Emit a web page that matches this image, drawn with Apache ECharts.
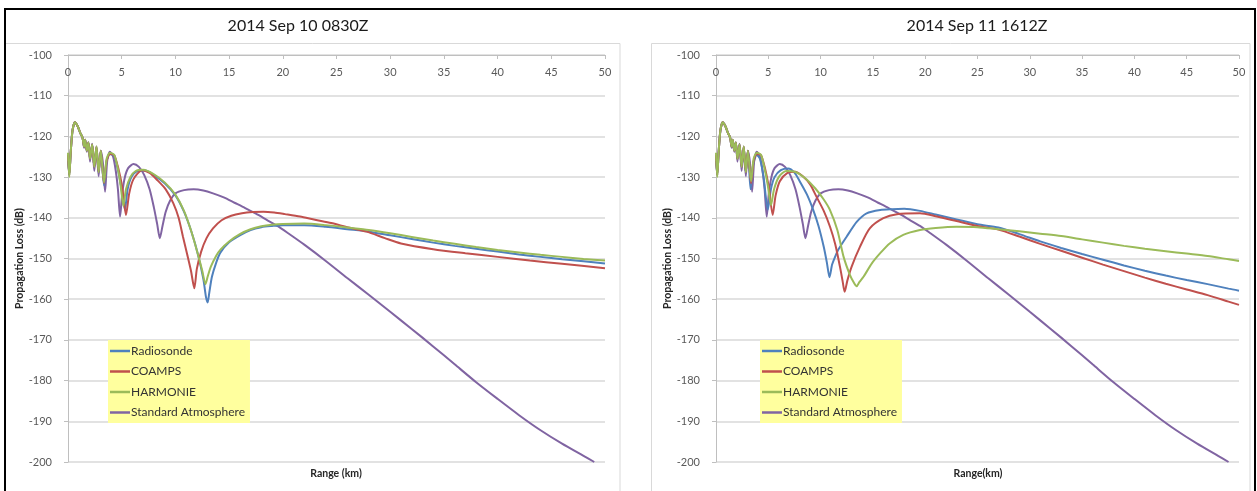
<!DOCTYPE html>
<html>
<head>
<meta charset="utf-8">
<script src="https://cdn.jsdelivr.net/npm/echarts/dist/echarts.min.js"></script>
<style>
  html, body { margin: 0; padding: 0; background: #ffffff; }
  #chart { width: 1257px; height: 491px; }
</style>
</head>
<body>
<div id="chart"></div>
<script>
// Propagation loss (dB) versus range (km) for two radar cases.

const panelTitles = ['2014 Sep 10 0830Z', '2014 Sep 11 1612Z'];
const rangeTitles = ['Range (km)', 'Range(km)'];
const seriesNames = ['Radiosonde', 'COAMPS', 'HARMONIE', 'Standard Atmosphere'];
const seriesColors = ['#4F81BD', '#C0504D', '#9BBB59', '#8064A2'];

// Standard atmosphere (same in both cases)
const stdRange = [0, 0.12, 0.25, 0.42, 0.65, 0.9, 1.15, 1.35, 1.5, 1.6, 1.75, 1.9, 2.05, 2.25, 2.45,
  2.65, 2.85, 3.05, 3.25, 3.45, 3.65, 3.9, 4.2, 4.45, 4.65, 4.85, 5.05, 5.3, 5.6, 6.1,
  6.6, 7.1, 7.6, 8.0, 8.3, 8.55, 8.8, 9.1, 9.5, 10.0, 10.8, 11.7, 12.6, 13.5, 14.5,
  15.5, 16.5, 17.5, 18.5, 19.5, 20.5, 22, 24, 26, 28, 30, 32, 34, 36, 38, 40, 42, 44, 46, 48, 49];
const stdLoss = [-126, -129.5, -124, -118.5, -116.5, -117.5, -119.2, -120.3, -122.8, -120.8, -123.8, -121.5, -126.2, -121.8, -128.5,
  -122.8, -129.8, -123.5, -126.5, -133.6, -126, -123.8, -125, -128.5, -133, -139.7, -134, -130, -127.8, -126.8,
  -127.5, -129.5, -133, -137.5, -141.5, -145, -142, -138.5, -135.8, -134, -133.2, -133, -133.3, -134, -135,
  -136.3, -137.6, -139, -140.5, -142, -143.8, -146.6, -150.6, -154.8, -158.9, -163.1, -167.3, -171.6, -176, -180.4,
  -184.5, -188.5, -192.2, -195.5, -198.5, -200];

// Case 1: 2014 Sep 10 0830Z
const sondeRange1 = [0, 0.12, 0.25, 0.42, 0.65, 0.9, 1.15, 1.35, 1.5, 1.6, 1.75, 1.9, 2.05, 2.25, 2.45,
  2.65, 2.85, 3.05, 3.35, 3.6, 3.9, 4.3, 4.7, 5.0, 5.3, 5.55, 5.9, 6.4, 7.2, 8.0,
  9.0, 10.0, 10.8, 11.5, 12.1, 12.6, 12.85, 13.0, 13.15, 13.4, 13.8, 14.2, 15, 16, 17,
  18, 19, 20, 22, 24, 26, 28, 30, 32, 34, 36, 38, 40, 42, 44, 46, 48, 50];
const sondeLoss1 = [-124.5, -129.5, -124, -118.5, -116.5, -117.5, -119.2, -120.3, -122.5, -120.8, -123.5, -121.5, -125.5, -122, -127.5,
  -122.5, -128.8, -123.5, -132, -126, -124.3, -124.8, -128.8, -133.2, -138, -133, -130, -128.6, -128.4, -129.5,
  -131.5, -134.5, -138.5, -143.5, -149, -155, -159.5, -160.8, -158.5, -154.5, -151, -148.5, -146, -144.3, -143,
  -142.3, -142, -141.8, -141.8, -142.2, -142.8, -143.4, -144.3, -145.2, -146.1, -146.9, -147.6, -148.3, -149, -149.6,
  -150.2, -150.7, -151.2];

const coampsRange1 = [0, 0.12, 0.25, 0.42, 0.65, 0.9, 1.15, 1.35, 1.5, 1.6, 1.75, 1.9, 2.05, 2.25, 2.45,
  2.65, 2.85, 3.05, 3.35, 3.6, 3.9, 4.3, 4.7, 5.05, 5.4, 5.7, 6.1, 6.9, 7.6, 8.3,
  9.1, 9.8, 10.3, 10.7, 11.1, 11.45, 11.76, 12.0, 12.4, 12.9, 13.5, 14.3, 15.2, 16.2, 17.2,
  18.2, 19.2, 20.2, 21.6, 23, 24.5, 26, 27.8, 29.5, 31, 34, 37, 40, 43, 46, 50];
const coampsLoss1 = [-124.5, -129.5, -124, -118.5, -116.5, -117.5, -119.2, -120.3, -122.5, -120.8, -123.5, -121.5, -125.5, -122, -127.5,
  -122.5, -128.8, -123.5, -131.5, -126, -124.3, -124.6, -128, -132.5, -139.3, -134, -130.5, -128.3, -129, -130.7,
  -133, -136.4, -140, -144.6, -149, -153, -157.3, -152.5, -148.3, -145, -142.6, -140.6, -139.5, -138.9, -138.6,
  -138.5, -138.7, -139.1, -139.7, -140.5, -141.3, -142.3, -143.4, -145, -146.3, -147.7, -148.7, -149.6, -150.5, -151.3,
  -152.4];

const harmonieRange1 = [0, 0.12, 0.25, 0.42, 0.65, 0.9, 1.15, 1.35, 1.5, 1.6, 1.75, 1.9, 2.05, 2.25, 2.45,
  2.65, 2.85, 3.05, 3.35, 3.6, 3.9, 4.3, 4.65, 4.9, 5.15, 5.4, 5.8, 6.3, 7.0, 8.0,
  9.0, 10.0, 10.8, 11.5, 12.1, 12.5, 12.8, 13.0, 13.3, 13.8, 14.2, 15, 16, 17, 18,
  19, 20, 22, 24, 26, 28, 30, 32, 34, 36, 38, 40, 42, 44, 46, 48, 50];
const harmonieLoss1 = [-124, -130, -124, -118.5, -116.5, -117.5, -119.2, -120.3, -122.5, -120.8, -123.5, -121.5, -125.5, -122, -127.5,
  -122.5, -128.8, -123.5, -131.3, -125.5, -124, -124.5, -128, -132, -137.1, -133, -130, -128.5, -128.2, -129.3,
  -131.3, -134.3, -138.3, -143.5, -149, -153, -156.3, -154.5, -152, -149.3, -147.8, -145.8, -144, -142.8, -142.1,
  -141.7, -141.5, -141.4, -141.8, -142.4, -143, -143.8, -144.7, -145.6, -146.4, -147.2, -147.9, -148.5, -149.1, -149.6,
  -150.1, -150.5];

// Case 2: 2014 Sep 11 1612Z
const sondeRange2 = [0, 0.12, 0.25, 0.42, 0.65, 0.9, 1.15, 1.35, 1.5, 1.6, 1.75, 1.9, 2.05, 2.25, 2.45,
  2.65, 2.85, 3.05, 3.3, 3.55, 3.9, 4.2, 4.55, 4.95, 5.25, 5.6, 6.2, 6.9, 7.5, 8.0,
  8.7, 9.3, 9.8, 10.3, 10.6, 10.85, 11.1, 11.4, 11.7, 12.5, 13.45, 14.4, 15.7, 16.8, 18,
  19.5, 21, 23, 25, 27, 29, 31, 33, 35, 37, 39, 41, 43, 45, 47, 49, 50];
const sondeLoss2 = [-124.5, -129.5, -124, -118.5, -116.5, -117.5, -119.2, -120.3, -122.5, -120.8, -123.5, -121.5, -125.5, -122, -127.5,
  -122.5, -128.8, -123.5, -133, -127, -124.5, -125.5, -130, -138, -133, -130, -128.3, -127.9, -128.9, -131,
  -134.3, -138.1, -142, -147.1, -151, -154.6, -151.5, -149.5, -147.8, -144.6, -141, -138.9, -138.1, -137.9, -137.8,
  -138.3, -139.2, -140.4, -141.6, -142.4, -144, -145.8, -147.4, -148.9, -150.3, -151.7, -153, -154.2, -155.3, -156.3,
  -157.4, -157.9];

const coampsRange2 = [0, 0.12, 0.25, 0.42, 0.65, 0.9, 1.15, 1.35, 1.5, 1.6, 1.75, 1.9, 2.05, 2.25, 2.45,
  2.65, 2.85, 3.05, 3.35, 3.6, 3.9, 4.3, 4.7, 5.05, 5.42, 5.7, 6.1, 6.8, 7.55, 8.3,
  9.0, 9.6, 10.3, 10.9, 11.4, 11.85, 12.1, 12.3, 12.55, 12.97, 13.77, 14.7, 16, 17.3, 19.5,
  21, 23, 25, 27, 29, 31, 33, 35, 37, 39, 41, 43, 45, 47, 49, 50];
const coampsLoss2 = [-124.5, -129.5, -124, -118.5, -116.5, -117.5, -119.2, -120.3, -122.5, -120.8, -123.5, -121.5, -125.5, -122, -127.5,
  -122.5, -128.8, -123.5, -131.5, -126, -124.3, -124.6, -128, -132.5, -139.3, -134.5, -131, -129, -128.7, -129.8,
  -131.8, -134.8, -138.3, -142.2, -146.5, -152, -155.5, -158.2, -155.5, -152, -147.1, -142.6, -140.1, -139.1, -138.9,
  -139.6, -140.8, -142, -142.9, -144.6, -146.4, -148.1, -149.8, -151.5, -153.1, -154.7, -156.2, -157.6, -159, -160.6,
  -161.4];

const harmonieRange2 = [0, 0.12, 0.25, 0.42, 0.65, 0.9, 1.15, 1.35, 1.5, 1.6, 1.75, 1.9, 2.05, 2.25, 2.45,
  2.65, 2.85, 3.05, 3.35, 3.6, 3.9, 4.3, 4.65, 4.95, 5.26, 5.55, 6.0, 6.7, 7.55, 8.5,
  9.5, 10.3, 10.9, 11.6, 12.2, 12.8, 13.2, 13.45, 13.7, 14.1, 14.9, 15.7, 16.6, 17.9, 19.5,
  21, 23, 25, 27, 29, 31, 33, 35, 37, 39, 41, 43, 45, 47, 49, 50];
const harmonieLoss2 = [-124, -130, -124, -118.5, -116.5, -117.5, -119.2, -120.3, -122.5, -120.8, -123.5, -121.5, -125.5, -122, -127.5,
  -122.5, -128.8, -123.5, -131, -125.5, -124, -124.5, -128, -132, -136.9, -133, -130, -128.5, -128.7, -130.2,
  -132.8, -135.5, -138.1, -143, -149.6, -154, -156, -156.8, -155.8, -154.5, -151.2, -148.7, -146.3, -144.2, -143,
  -142.5, -142.2, -142.3, -142.8, -143.3, -143.9, -144.5, -145.3, -146.1, -146.9, -147.6, -148.2, -148.8, -149.4, -150.2,
  -150.6];

// Axis scales
const rangeMin = 0, rangeMax = 50, rangeStep = 5;
const lossMin = -200, lossMax = -100, lossStep = 10;

const pair = (xs, ys) => xs.map((x, i) => [x, ys[i]]);

const cases = [
  [[sondeRange1, sondeLoss1], [coampsRange1, coampsLoss1], [harmonieRange1, harmonieLoss1], [stdRange, stdLoss]],
  [[sondeRange2, sondeLoss2], [coampsRange2, coampsLoss2], [harmonieRange2, harmonieLoss2], [stdRange, stdLoss]]
];

const FONT = 'Lato, "Liberation Sans", sans-serif';
const grids = [
  { left: 68, top: 55, width: 537, height: 407 },
  { left: 716, top: 55, width: 523, height: 407 }
];

const chart = echarts.init(document.getElementById('chart'), null, { renderer: 'canvas' });

const series = [];
cases.forEach((lines, g) => {
  lines.forEach(([xs, ys], k) => {
    series.push({
      name: seriesNames[k],
      type: 'line',
      xAxisIndex: g,
      yAxisIndex: g,
      data: pair(xs, ys),
      showSymbol: false,
      symbol: 'none',
      smooth: 0.25,
      clip: true,
      color: seriesColors[k],
      lineStyle: { color: seriesColors[k], width: 2 },
      emphasis: { disabled: true },
      z: 3 + (k === 3 ? 0 : 1)
    });
  });
});

const xAxes = grids.map((_, g) => ({
  type: 'value', gridIndex: g, position: 'top',
  min: rangeMin, max: rangeMax, interval: rangeStep,
  axisLine: { show: true, lineStyle: { color: '#BFBFBF', width: 1 } },
  axisTick: { show: true, inside: true, length: 4, lineStyle: { color: '#BFBFBF' } },
  axisLabel: { inside: true, margin: 12, color: '#595959', fontSize: 11, fontFamily: FONT },
  splitLine: { show: false }
}));

const yAxes = grids.map((_, g) => ({
  type: 'value', gridIndex: g,
  min: lossMin, max: lossMax, interval: lossStep,
  name: 'Propagation Loss (dB)', nameLocation: 'middle', nameRotate: 90, nameGap: 36,
  nameTextStyle: { color: '#262626', fontSize: 10.5, fontWeight: 'bold', fontFamily: FONT },
  axisLine: { show: true, lineStyle: { color: '#BFBFBF', width: 1 } },
  axisTick: { show: true, inside: false, length: 4, lineStyle: { color: '#BFBFBF' } },
  axisLabel: { margin: 16, color: '#595959', fontSize: 11, fontFamily: FONT },
  splitLine: { show: true, lineStyle: { color: '#D9D9D9', width: 1.5 } }
}));

const legendBase = {
  orient: 'vertical', top: 340,
  data: seriesNames,
  icon: 'rect', itemWidth: 20, itemHeight: 2.5, itemGap: 8.5,
  padding: [5, 5, 4.5, 2],
  backgroundColor: '#FFFF9E',
  textStyle: { color: '#333333', fontSize: 12, fontFamily: FONT, padding: [0, 0, 0, -4] },
  selectedMode: false
};

chart.setOption({
  animation: false,
  backgroundColor: '#ffffff',
  grid: grids.map(g => Object.assign({ containLabel: false, outerBoundsMode: 'none' }, g)),
  xAxis: xAxes,
  yAxis: yAxes,
  legend: [
    Object.assign({}, legendBase, { left: 108 }),
    Object.assign({}, legendBase, { left: 760 })
  ],
  series: series,
  graphic: [
    { type: 'rect', silent: true, z: 0, shape: { x: 5.5, y: 43.5, width: 614.5, height: 460 },
      style: { fill: 'none', stroke: '#D9D9D9', lineWidth: 1 } },
    { type: 'rect', silent: true, z: 0, shape: { x: 651.5, y: 43.5, width: 598.5, height: 460 },
      style: { fill: 'none', stroke: '#D9D9D9', lineWidth: 1 } },
    { type: 'rect', silent: true, z: 10, shape: { x: 5, y: 9, width: 1250, height: 500 },
      style: { fill: 'none', stroke: '#000000', lineWidth: 2 } },
    { type: 'text', silent: true, x: 298, y: 26,
      style: { text: panelTitles[0], fill: '#1a1a1a', font: '16px ' + FONT, textAlign: 'center', textVerticalAlign: 'middle' } },
    { type: 'text', silent: true, x: 977, y: 26,
      style: { text: panelTitles[1], fill: '#1a1a1a', font: '16px ' + FONT, textAlign: 'center', textVerticalAlign: 'middle' } },
    { type: 'text', silent: true, x: 336, y: 474,
      style: { text: rangeTitles[0], fill: '#262626', font: 'bold 10.5px ' + FONT, textAlign: 'center', textVerticalAlign: 'middle' } },
    { type: 'text', silent: true, x: 978, y: 474,
      style: { text: rangeTitles[1], fill: '#262626', font: 'bold 10.5px ' + FONT, textAlign: 'center', textVerticalAlign: 'middle' } }
  ]
});
</script>
</body>
</html>
